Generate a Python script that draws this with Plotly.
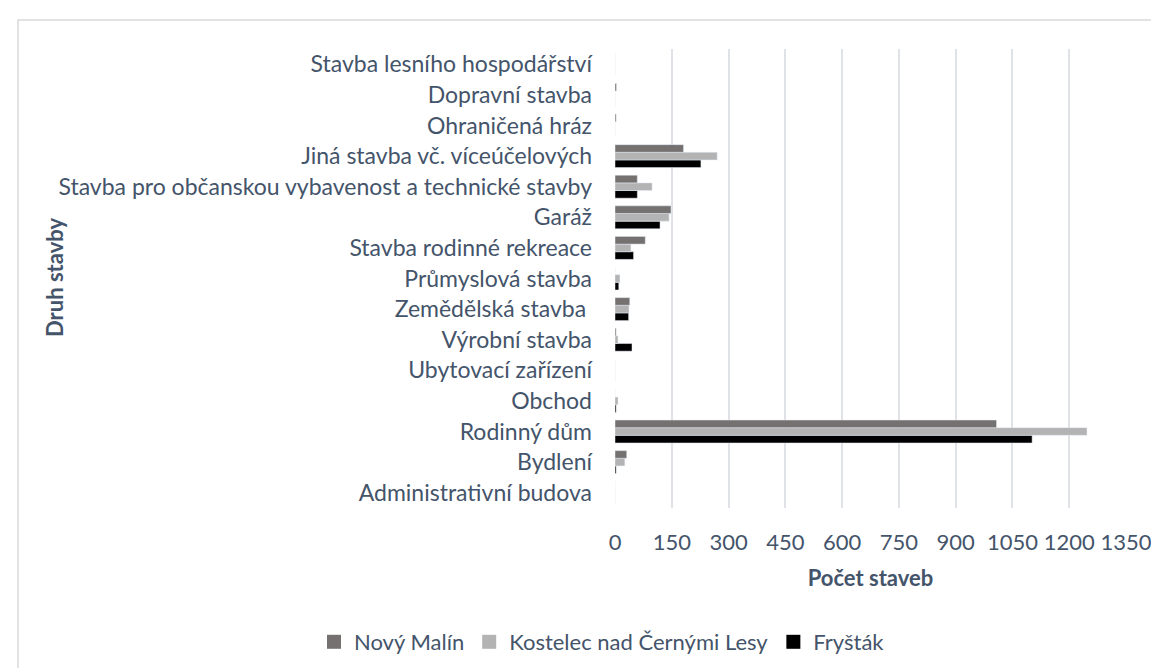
import plotly.graph_objects as go

# categories, bottom to top (plotly category axis runs upwards)
CATEGORIES = [
    "Administrativní budova", "Bydlení", "Rodinný dům", "Obchod", "Ubytovací zařízení",
    "Výrobní stavba", "Zemědělská stavba ", "Průmyslová stavba", "Stavba rodinné rekreace",
    "Garáž", "Stavba pro občanskou vybavenost a technické stavby",
    "Jiná stavba vč. víceúčelových", "Ohraničená hráz", "Dopravní stavba",
    "Stavba lesního hospodářství",
]
NOVY_MALIN = [0, 31, 1008, 0, 0, 3, 39, 0, 80, 148, 59, 181, 3, 4, 0]
KOSTELEC = [0, 26, 1247, 8, 0, 8, 37, 13, 42, 143, 98, 270, 0, 0, 0]
FRYSTAK = [0, 3, 1102, 3, 0, 45, 36, 10, 49, 119, 59, 227, 0, 0, 0]
X_TICKS = [0, 150, 300, 450, 600, 750, 900, 1050, 1200, 1350]

SERIES = [("Nový Malín", NOVY_MALIN, "#767171"),
          ("Kostelec nad Černými Lesy", KOSTELEC, "#b3b3b3"),
          ("Fryšták", FRYSTAK, "#000000")]

TEXT = "#44546a"
FONT = "Lato"
W, H = 1159, 668
L, R, T, B = 607, 41, 41, 168          # plot area 607..1118 x 41..500
PW, PH = W - L - R, H - T - B


def px_x(x):
    return (x - L) / PW


def px_y(y):
    return (H - B - y) / PH


fig = go.Figure()
# added bottom-up so Nový Malín sits on top of each group
for name, vals, col in reversed(SERIES):
    fig.add_bar(y=CATEGORIES, x=vals, orientation="h", name=name, marker_color=col,
                showlegend=False)
# legend entries as square markers (bigger swatches than the bar icon)
for name, vals, col in SERIES:
    fig.add_scatter(x=[None], y=[None], mode="markers", name=name,
                    marker=dict(symbol="square", size=14, color=col))

fig.update_layout(
    width=W, height=H, barmode="group", bargap=0.25, bargroupgap=0,
    margin=dict(l=L, r=R, t=T, b=B, autoexpand=False),
    plot_bgcolor="white", paper_bgcolor="white",
    font=dict(family=FONT, size=23, color=TEXT),
    legend=dict(orientation="h", x=px_x(594), xanchor="center",
                y=px_y(634), yanchor="middle", font=dict(size=22)),
    xaxis=dict(range=[0, 1350], tickvals=X_TICKS, showgrid=True, gridcolor="#dfe3e8",
               gridwidth=1.5, zeroline=False, showline=False, ticklabelstandoff=19,
               tickfont=dict(size=22),
               title=dict(text="<b>Počet staveb</b>", font=dict(size=22), standoff=16)),
    yaxis=dict(type="category", categoryorder="array", categoryarray=CATEGORIES,
               showgrid=False, showline=False, ticklabelstandoff=22),
    annotations=[dict(text="<b>Druh stavby</b>", textangle=-90, xref="paper", yref="paper",
                      x=px_x(46), y=px_y(270), xanchor="center", yanchor="middle",
                      showarrow=False, font=dict(size=22))],
    shapes=[dict(type="rect", xref="paper", yref="paper", x0=px_x(10), y0=px_y(12),
                 x1=px_x(1180), y1=px_y(690), line=dict(color="#d9d9d9", width=1.5),
                 layer="below")],
)

fig.write_html("out.html")
